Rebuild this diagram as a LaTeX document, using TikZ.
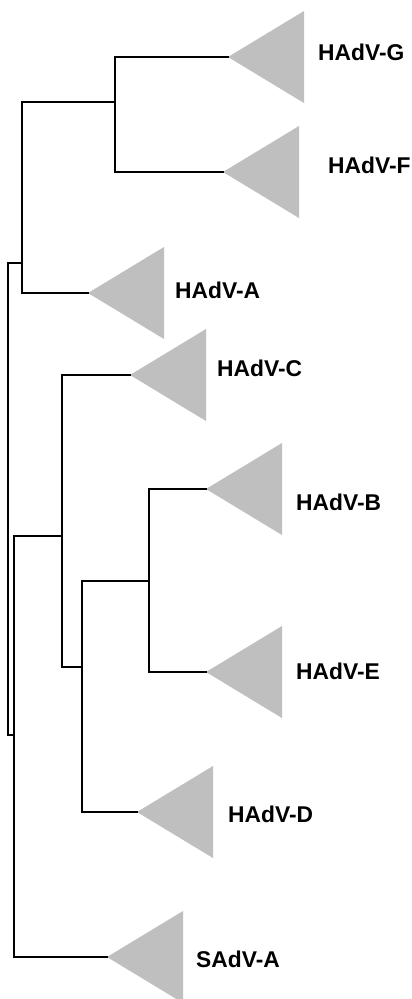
\documentclass[tikz,border=0pt]{standalone}
\usepackage{fontspec}
\setmainfont{Liberation Sans}
\definecolor{trigray}{RGB}{191,191,191}
\begin{document}
\begin{tikzpicture}[x=1pt,y=-1pt,
  branch/.style={line width=2.2pt,line cap=rect},
  tri/.style={fill=trigray},
  lab/.style={anchor=west,inner sep=0pt,font=\fontsize{22.8}{26}\selectfont\bfseries}]
\useasboundingbox[fill=white] (0,0) rectangle (412,999);
% internal nodes
\coordinate (root) at (8,499);
\coordinate (nGFA) at (22,263);
\coordinate (nGF) at (115,102);
\coordinate (nX) at (14,735);
\coordinate (nCBED) at (62,536);
\coordinate (nBED) at (82,667);
\coordinate (nBE) at (149,581);
% tips
\coordinate (tG) at (228,57);
\coordinate (tF) at (223,172);
\coordinate (tA) at (88,293);
\coordinate (tC) at (130,375);
\coordinate (tB) at (206,489);
\coordinate (tE) at (206,672);
\coordinate (tD) at (137,812);
\coordinate (tS) at (107,957);
% triangles
\foreach \t in {tG,tF,tA,tC,tB,tE,tD,tS}{
  \fill[tri] (\t) -- ++(76,-46) -- ++(0,92) -- cycle;
}
% branches
\draw[branch] (root) |- (nGFA);
\draw[branch] (root) |- (nX);
\draw[branch] (nGFA) |- (nGF);
\draw[branch] (nGFA) |- (tA);
\draw[branch] (nGF) |- (tG);
\draw[branch] (nGF) |- (tF);
\draw[branch] (nX) |- (nCBED);
\draw[branch] (nX) |- (tS);
\draw[branch] (nCBED) |- (tC);
\draw[branch] (nCBED) |- (nBED);
\draw[branch] (nBED) |- (nBE);
\draw[branch] (nBED) |- (tD);
\draw[branch] (nBE) |- (tB);
\draw[branch] (nBE) |- (tE);
% labels
\node[lab] (lG) at (318,52) {HAdV-G};
\node[lab] (lF) at (328,165) {HAdV-F};
\node[lab] (lA) at (175,290) {HAdV-A};
\node[lab] (lC) at (217,368) {HAdV-C};
\node[lab] (lB) at (296,502) {HAdV-B};
\node[lab] (lE) at (296,671) {HAdV-E};
\node[lab] (lD) at (228,814) {HAdV-D};
\node[lab] (lS) at (196,959) {SAdV-A};
\end{tikzpicture}
\end{document}
